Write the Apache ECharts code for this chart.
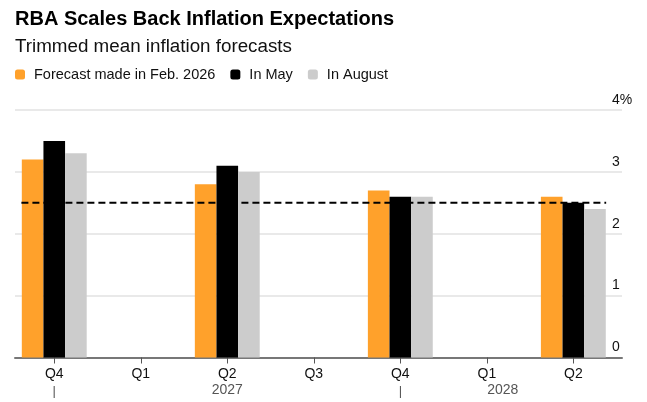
<!DOCTYPE html>
<html>
<head>
<meta charset="utf-8">
<script src="https://cdn.jsdelivr.net/npm/echarts@6/dist/echarts.min.js"></script>
<style>
  html, body { margin: 0; padding: 0; background: #fff; }
  #chart { width: 647px; height: 402px; }
</style>
</head>
<body>
<div id="chart"></div>
<script>
// quarters on the x axis and the year row shown beneath them
const quarters = ['Q4', 'Q1', 'Q2', 'Q3', 'Q4', 'Q1', 'Q2'];
const yearRow = ['sep', '', '2027', '', 'sep', '2028', ''];

// trimmed mean inflation forecasts, % (no forecast for Q1/Q3)
const febForecast = [3.2, null, 2.8, null, 2.7, null, 2.6];
const mayForecast = [3.5, null, 3.1, null, 2.6, null, 2.5];
const augForecast = [3.3, null, 3.0, null, 2.6, null, 2.4];

// midpoint of RBA target band
const targetMid = 2.5;
const targetSpan = [-0.38, 6.38];

const yMin = 0, yMax = 4, yStep = 1;

const font = "'Liberation Sans', Arial, sans-serif";
const chart = echarts.init(document.getElementById('chart'));

const gridTop = 110, gridBottom = 44.5;

const option = {
  animation: false,
  textStyle: { fontFamily: font },
  title: [
    {
      text: 'RBA Scales Back Inflation Expectations',
      left: 15, top: 9, padding: 0,
      textStyle: { fontSize: 20, fontWeight: 'bold', color: '#000', fontFamily: font }
    },
    {
      text: 'Trimmed mean inflation forecasts',
      left: 15, top: 37, padding: 0,
      textStyle: { fontSize: 18.8, fontWeight: 'normal', color: '#111', fontFamily: font }
    }
  ],
  legend: {
    left: 15, top: 67, padding: 0,
    icon: 'roundRect', itemWidth: 10, itemHeight: 10, itemGap: 15,
    textStyle: { fontSize: 14.5, color: '#111', padding: [0, 0, 0, 4], fontFamily: font },
    data: ['Forecast made in Feb. 2026', 'In May', 'In August']
  },
  grid: [
    // gridlines, axis line, y labels
    { left: 15, right: 25, top: gridTop, bottom: gridBottom },
    // bars on quarter bands
    { left: 11, right: 30.4, top: gridTop, bottom: gridBottom }
  ],
  xAxis: [
    {
      gridIndex: 0, type: 'value', min: -0.454, max: 6.563,
      axisLine: { show: true, lineStyle: { color: '#777', width: 2 } },
      axisTick: { show: false }, axisLabel: { show: false }, splitLine: { show: false }
    },
    {
      gridIndex: 1, type: 'category', data: quarters,
      axisLine: { show: false },
      axisTick: { show: true, alignWithLabel: true, length: 6, lineStyle: { color: '#555', width: 1 } },
      axisLabel: {
        margin: 8,
        interval: 0,
        formatter: function (v, i) {
          const y = yearRow[i];
          let second = '{yr| }';
          if (y === 'sep') second = '{sep||}';
          else if (y === '2028') second = '{yr2|' + y + '}';
          else if (y) second = '{yr|' + y + '}';
          return '{q|' + v + '}\n' + second;
        },
        rich: {
          q: { fontSize: 14, color: '#111', lineHeight: 17, fontFamily: font },
          yr: { fontSize: 14, color: '#555', lineHeight: 16, fontFamily: font },
          yr2: { fontSize: 14, color: '#555', lineHeight: 16, padding: [0, 0, 0, 32], fontFamily: font },
          sep: { fontSize: 13, color: '#555', lineHeight: 18, fontFamily: font }
        }
      }
    }
  ],
  yAxis: [
    {
      gridIndex: 0, type: 'value', position: 'right',
      min: yMin, max: yMax, interval: yStep,
      axisLine: { show: false }, axisTick: { show: false },
      splitLine: { show: true, lineStyle: { color: '#e2e2e2', width: 1.5 } },
      axisLabel: {
        margin: -10, align: 'left', verticalAlign: 'bottom',
        padding: [0, 0, 3, 0],
        fontSize: 14, color: '#111', fontFamily: font,
        formatter: function (v) { return v === yMax ? v + '%' : String(v); }
      }
    },
    {
      gridIndex: 1, type: 'value', min: yMin, max: yMax, interval: yStep, show: false
    }
  ],
  series: [
    {
      name: 'Forecast made in Feb. 2026', type: 'bar', xAxisIndex: 1, yAxisIndex: 1,
      data: febForecast, barGap: '0%', barCategoryGap: '25%',
      itemStyle: { color: '#ffa12b' }
    },
    {
      name: 'In May', type: 'bar', xAxisIndex: 1, yAxisIndex: 1,
      data: mayForecast, barGap: '0%', barCategoryGap: '25%',
      itemStyle: { color: '#000000' }
    },
    {
      name: 'In August', type: 'bar', xAxisIndex: 1, yAxisIndex: 1,
      data: augForecast, barGap: '0%', barCategoryGap: '25%',
      itemStyle: { color: '#cccccc' }
    },
    {
      name: 'target', type: 'line', xAxisIndex: 0, yAxisIndex: 0,
      data: targetSpan.map(function (x) { return [x, targetMid]; }),
      symbol: 'none', silent: true, z: 5,
      lineStyle: { color: '#000', width: 2, type: [7, 4] }
    }
  ]
};

chart.setOption(option);
</script>
</body>
</html>
